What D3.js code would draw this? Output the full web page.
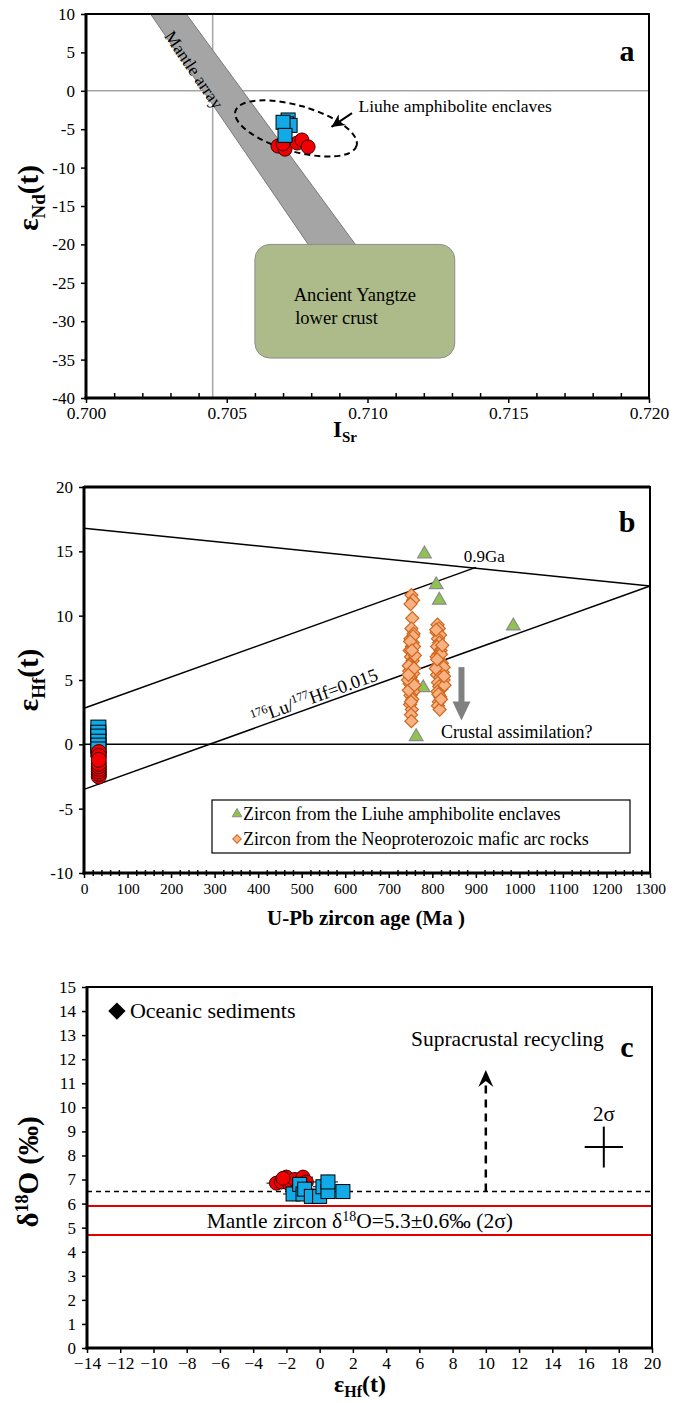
<!DOCTYPE html>
<html><head><meta charset="utf-8">
<script src="https://cdn.jsdelivr.net/npm/d3@7"></script>
<style>
body{margin:0;background:#fff}
svg{display:block}
text{font-family:"Liberation Serif","Times New Roman",serif;fill:#000}
</style>
</head><body>
<svg id="chart" width="680" height="1403"></svg>
<script>
// ---------------- DATA ----------------
// Panel a
const aXDomain = [0.700, 0.720];
const aYDomain = [-40, 10];
const aXTicks = [0.700, 0.705, 0.710, 0.715, 0.720];
const aXMinor = [0.701,0.702,0.703,0.704,0.706,0.707,0.708,0.709,0.711,0.712,0.713,0.714,0.716,0.717,0.718,0.719];
const aYTicks = [10, 5, 0, -5, -10, -15, -20, -25, -30, -35, -40];
const aRefISr = 0.7045;
const aRefENd = 0;
const aCircleISr = [0.70682, 0.70707, 0.70700, 0.70750, 0.70767, 0.70789];
const aCircleENd = [-7.2, -7.6, -6.9, -6.8, -6.4, -7.3];
const aSquareISr = [0.70718, 0.70712, 0.70725, 0.70700, 0.70707];
const aSquareENd = [-3.8, -4.3, -4.5, -4.1, -5.8];
const mantleArrayPts = [[0.70192, 12], [0.70316, 12], [0.71009, -22.6], [0.70838, -22.6]];
const yangtzeBox = [0.7060, -20.0, 0.7131, -34.8];
const enclaveEllipse = [0.70746, -4.9];

// Panel b
const bXDomain = [0, 1300];
const bYDomain = [-10, 20];
const bXTicks = [0,100,200,300,400,500,600,700,800,900,1000,1100,1200,1300];
const bXMinor = [20,40,60,80,120,140,160,180,220,240,260,280,320,340,360,380,420,440,460,480,520,540,560,580,620,640,660,680,720,740,760,780,820,840,860,880,920,940,960,980,1020,1040,1060,1080,1120,1140,1160,1180,1220,1240,1260,1280];
const bYTicks = [20, 15, 10, 5, 0, -5, -10];
const bSquareAge = [33, 33, 33, 33, 33, 33];
const bSquareEHf = [1.3, 0.9, 0.6, 0.2, -0.1, -0.4];
const bCircleAge = [34, 34, 34, 34, 34, 34, 34, 34, 34];
const bCircleEHf = [-0.6, -0.9, -2.5, -2.3, -2.1, -1.9, -1.7, -1.5, -1.2];
const bTriAge = [782, 809, 816, 986, 779, 763];
const bTriEHf = [14.8, 12.4, 11.2, 9.2, 4.4, 0.6];
const bDiaAge = [752,756,750,754,752,757,750,755,753,748,757,751,755,749,753,747,756,750,754,748,752,757,750,754,749,753,751,752,746,758,744,760,746,758,
                 756,749,753,745,759,751,
                 812,815,810,818,813,816,811,819,814,810,817,822,812,815,824,811,818,826,813,816,821,812,818,815,813,817,826,828,808,820,
                 823,809,827,814,820,811];
const bDiaEHf = [11.6,11.2,10.9,9.8,9.0,8.6,8.2,7.9,7.6,7.3,7.0,6.8,6.5,6.2,6.0,5.7,5.5,5.2,4.9,4.7,4.4,4.1,3.8,3.5,3.1,2.7,2.3,1.8,6.1,5.9,5.0,6.9,4.2,7.6,
                 8.4,8.0,7.3,5.4,4.6,3.3,
                 9.3,9.0,8.7,8.5,8.2,7.9,7.6,7.3,7.0,6.8,6.5,6.3,6.1,5.8,5.6,5.4,5.2,5.0,4.8,4.5,4.3,4.1,3.7,3.3,3.0,2.7,6.0,4.6,5.9,7.0,
                 7.7,8.9,5.3,3.9,3.5,6.6];
const bRefLines = [
  [[0, 16.8], [1300, 12.3]],
  [[0, 2.8], [900, 13.75]],
  [[0, -3.5], [1300, 12.3]],
  [[0, 0], [1300, 0]]
];
const bArrow = [867, 6.0, 1.85];

// Panel c
const cXDomain = [-14, 20];
const cYDomain = [0, 15];
const cXTicks = [-14,-12,-10,-8,-6,-4,-2,0,2,4,6,8,10,12,14,16,18,20];
const cYTicks = [0,1,2,3,4,5,6,7,8,9,10,11,12,13,14,15];
const cCircleEHf = [-2.6, -2.3, -2.0, -1.8, -1.5, -1.0, -0.8, -2.2];
const cCircleD18O = [6.85, 6.9, 7.1, 6.8, 7.0, 7.1, 6.9, 7.05];
const cSquareEHf = [-1.6, -1.2, -1.0, -0.9, -0.5, 0.0, 0.2, 0.5, 0.5, 1.4];
const cSquareD18O = [6.4, 6.8, 6.4, 6.6, 6.3, 6.3, 6.7, 6.5, 6.9, 6.5];
const cDashedLevel = 6.5;
const cMantleBand = [5.9, 4.7];
const cRecyclingArrow = [10, 6.5, 11.55];
const cSigmaCross = [17.1, 8.35, 1.15, 0.85];
const cOceanic = [-12.2, 14.0];

// ---------------- DRAWING ----------------
const svg = d3.select('#chart');
const BLUE = '#12aae6', RED = '#f00000';

function styleAxis(g, fs) {
  g.select('.domain').remove();
  g.selectAll('.tick line').attr('stroke', '#000').attr('stroke-width', 1.5);
  g.selectAll('.tick text').style('font-size', fs + 'px').style('font-family', '"Liberation Serif","Times New Roman",serif');
}
function frame(g, L) {
  g.append('rect').attr('x', L.l).attr('y', L.t).attr('width', L.r - L.l).attr('height', L.b - L.t)
    .attr('fill', 'none').attr('stroke', '#000').attr('stroke-width', 2);
  g.append('line').attr('x1', L.l).attr('x2', L.l).attr('y1', L.t - 1).attr('y2', L.b + 1.5).attr('stroke', '#000').attr('stroke-width', 3);
  g.append('line').attr('x1', L.l - 1.5).attr('x2', L.r + 1).attr('y1', L.b).attr('y2', L.b).attr('stroke', '#000').attr('stroke-width', 3);
}
function arrowHead(g, x1, y1, x2, y2, len, w, color, notch) {
  const a = Math.atan2(y2 - y1, x2 - x1);
  const bx = x2 - len * Math.cos(a), by = y2 - len * Math.sin(a);
  const nx = -Math.sin(a), ny = Math.cos(a);
  const nb = x2 - len * (1 - notch) * Math.cos(a), nby = y2 - len * (1 - notch) * Math.sin(a);
  g.append('path').attr('d', `M${x2},${y2}L${bx + nx * w / 2},${by + ny * w / 2}L${nb},${nby}L${bx - nx * w / 2},${by - ny * w / 2}Z`)
    .attr('fill', color).attr('stroke', 'none');
}
function squares(g, xs, ys, sx, sy, s) {
  g.selectAll(null).data(xs.map((x, i) => [x, ys[i]])).join('rect')
    .attr('x', d => sx(d[0]) - s / 2).attr('y', d => sy(d[1]) - s / 2).attr('width', s).attr('height', s)
    .attr('fill', BLUE).attr('stroke', '#000').attr('stroke-width', 1);
}
function circles(g, xs, ys, sx, sy, r) {
  g.selectAll(null).data(xs.map((x, i) => [x, ys[i]])).join('circle')
    .attr('cx', d => sx(d[0])).attr('cy', d => sy(d[1])).attr('r', r)
    .attr('fill', RED).attr('stroke', '#3a0000').attr('stroke-width', 1);
}
function yLabel(g, cx, cy, main, sub, tail, sup) {
  const t = g.append('text').attr('transform', `translate(${cx},${cy}) rotate(-90)`).attr('text-anchor', 'middle')
    .style('font-weight', 'bold').style('font-size', '29px');
  t.append('tspan').text(main);
  if (sup) {
    t.append('tspan').style('font-size', '18px').attr('baseline-shift', 'super').text(sub);
  } else {
    t.append('tspan').attr('dy', 7).style('font-size', '19px').text(sub);
  }
  t.append('tspan').attr('dy', sup ? 0 : -7).text(tail);
}

// ===== Panel a =====
{
  const L = {l: 86, r: 649, t: 14, b: 398};
  const x = d3.scaleLinear().domain(aXDomain).range([L.l, L.r]);
  const y = d3.scaleLinear().domain(aYDomain).range([L.b, L.t]);
  const g = svg.append('g');
  svg.append('clipPath').attr('id', 'clipA').append('rect').attr('x', L.l).attr('y', L.t).attr('width', L.r - L.l).attr('height', L.b - L.t);
  const gc = g.append('g').attr('clip-path', 'url(#clipA)');
  gc.append('line').attr('x1', x(aRefISr)).attr('x2', x(aRefISr)).attr('y1', y(aYDomain[0])).attr('y2', y(aYDomain[1]))
    .attr('stroke', '#a6a6a6').attr('stroke-width', 1.5);
  gc.append('line').attr('x1', x(aXDomain[0])).attr('x2', x(aXDomain[1])).attr('y1', y(aRefENd)).attr('y2', y(aRefENd))
    .attr('stroke', '#a6a6a6').attr('stroke-width', 1.5);
  gc.append('path').attr('d', d3.line().x(d => x(d[0])).y(d => y(d[1]))(mantleArrayPts) + 'Z')
    .attr('fill', '#a5a5a5').attr('stroke', '#7a7a7a').attr('stroke-width', 1);
  gc.append('rect').attr('x', x(yangtzeBox[0])).attr('y', y(yangtzeBox[1]))
    .attr('width', x(yangtzeBox[2]) - x(yangtzeBox[0])).attr('height', y(yangtzeBox[3]) - y(yangtzeBox[1]))
    .attr('rx', 15).attr('fill', '#adbb8a').attr('stroke', '#8c8c8c').attr('stroke-width', 1);
  g.append('text').attr('x', x(0.70955)).attr('y', y(-27.4)).attr('text-anchor', 'middle').style('font-size', '18.5px').text('Ancient Yangtze');
  g.append('text').attr('x', x(0.70890)).attr('y', y(-30.4)).attr('text-anchor', 'middle').style('font-size', '18.5px').text('lower crust');
  // mantle array label
  const ang = Math.atan2(y(mantleArrayPts[3][1]) - y(mantleArrayPts[0][1]), x(mantleArrayPts[3][0]) - x(mantleArrayPts[0][0])) * 180 / Math.PI;
  g.append('text').attr('transform', `translate(${x(0.70366)},${y(2.3)}) rotate(${ang})`).attr('text-anchor', 'middle')
    .style('font-size', '17.5px').text('Mantle array');
  // ellipse
  g.append('ellipse').attr('cx', x(enclaveEllipse[0])).attr('cy', y(enclaveEllipse[1])).attr('rx', 63).attr('ry', 23)
    .attr('transform', `rotate(16,${x(enclaveEllipse[0])},${y(enclaveEllipse[1])})`)
    .attr('fill', 'none').attr('stroke', '#000').attr('stroke-width', 2).attr('stroke-dasharray', '6,4');
  // annotation arrow
  const ax1 = x(0.70945), ay1 = y(-2.9), ax2 = x(0.70872), ay2 = y(-4.7);
  g.append('line').attr('x1', ax1).attr('y1', ay1).attr('x2', ax2).attr('y2', ay2).attr('stroke', '#000').attr('stroke-width', 2);
  arrowHead(g, ax1, ay1, ax2, ay2, 13, 13, '#000', 0.3);
  g.append('text').attr('x', x(0.70968)).attr('y', y(-2.7)).style('font-size', '17.5px').text('Liuhe amphibolite enclaves');
  // points
  circles(g, aCircleISr, aCircleENd, x, y, 7);
  squares(g, aSquareISr, aSquareENd, x, y, 14);
  // axes
  g.append('g').attr('transform', `translate(0,${L.b})`)
    .call(d3.axisBottom(x).tickValues(aXMinor).tickSize(-5).tickFormat(''))
    .call(s => styleAxis(s, 17));
  g.append('g').attr('transform', `translate(0,${L.b})`)
    .call(d3.axisBottom(x).tickValues(aXTicks).tickSize(5).tickPadding(4).tickFormat(d3.format('.3f')))
    .call(s => styleAxis(s, 17.5));
  g.append('g').attr('transform', `translate(${L.l},0)`)
    .call(d3.axisLeft(y).tickValues(aYTicks).tickSize(5).tickPadding(6).tickFormat(d => String(d)))
    .call(s => styleAxis(s, 17));
  frame(g, L);
  g.append('text').attr('x', 627).attr('y', 61).attr('text-anchor', 'middle').style('font-size', '30px').style('font-weight', 'bold').text('a');
  yLabel(g, 38, 198, 'ε', 'Nd', '(t)', false);
  const xl = g.append('text').attr('x', 345).attr('y', 437).attr('text-anchor', 'middle').style('font-weight', 'bold').style('font-size', '23px');
  xl.append('tspan').text('I');
  xl.append('tspan').attr('dy', 5).style('font-size', '15px').text('Sr');
}

// ===== Panel b =====
{
  const L = {l: 84, r: 650, t: 487, b: 873};
  const x = d3.scaleLinear().domain(bXDomain).range([L.l, L.r]);
  const y = d3.scaleLinear().domain(bYDomain).range([L.b, L.t]);
  const g = svg.append('g');
  const line = d3.line().x(d => x(d[0])).y(d => y(d[1]));
  bRefLines.forEach(seg => g.append('path').attr('d', line(seg)).attr('stroke', '#000').attr('stroke-width', 1.5).attr('fill', 'none'));
  // labels on lines
  g.append('text').attr('x', x(872)).attr('y', y(14.2)).style('font-size', '17px').text('0.9Ga');
  const s3 = bRefLines[2];
  const ang = Math.atan2(y(s3[1][1]) - y(s3[0][1]), x(s3[1][0]) - x(s3[0][0])) * 180 / Math.PI;
  const lt = g.append('text').attr('transform', `translate(${x(390)},${y(1.2) - 4}) rotate(${ang})`).style('font-size', '18.5px');
  lt.append('tspan').style('font-size', '12px').attr('baseline-shift', 'super').text('176');
  lt.append('tspan').text('Lu/');
  lt.append('tspan').style('font-size', '12px').attr('baseline-shift', 'super').text('177');
  lt.append('tspan').text('Hf=0.015');
  // gray arrow
  const axp = x(bArrow[0]), ytop = y(bArrow[1]), ytip = y(bArrow[2]);
  g.append('line').attr('x1', axp).attr('x2', axp).attr('y1', ytop).attr('y2', ytip - 16).attr('stroke', '#808080').attr('stroke-width', 6);
  g.append('path').attr('d', `M${axp - 9},${ytip - 19}L${axp + 9},${ytip - 19}L${axp},${ytip}Z`).attr('fill', '#808080');
  g.append('text').attr('x', x(820)).attr('y', y(0.47)).style('font-size', '18px').text('Crustal assimilation?');
  // points
  const tri = d3.symbol(d3.symbolTriangle).size(80);
  g.selectAll(null).data(bTriAge.map((a, i) => [a, bTriEHf[i]])).join('path')
    .attr('d', tri).attr('transform', d => `translate(${x(d[0])},${y(d[1])})`)
    .attr('fill', '#8fc24f').attr('stroke', '#8c8c8c').attr('stroke-width', 1.2);
  const dia = d3.symbol(d3.symbolSquare).size(85);
  g.selectAll(null).data(bDiaAge.map((a, i) => [a, bDiaEHf[i]])).join('path')
    .attr('d', dia).attr('transform', d => `translate(${x(d[0])},${y(d[1])}) rotate(45)`)
    .attr('fill', '#f7b183').attr('stroke', '#d0661c').attr('stroke-width', 1.2);
  squares(g, bSquareAge, bSquareEHf, x, y, 15);
  circles(g, bCircleAge, bCircleEHf, x, y, 7.5);
  // legend
  const lg = g.append('g');
  lg.append('rect').attr('x', 212).attr('y', 800).attr('width', 418).attr('height', 53).attr('fill', '#fff').attr('stroke', '#000').attr('stroke-width', 1.2);
  lg.append('path').attr('d', d3.symbol(d3.symbolTriangle).size(40)).attr('transform', 'translate(237,814)')
    .attr('fill', '#8fc24f').attr('stroke', '#8c8c8c');
  lg.append('text').attr('x', 243).attr('y', 820).style('font-size', '18px').text('Zircon from the Liuhe amphibolite enclaves');
  lg.append('path').attr('d', d3.symbol(d3.symbolSquare).size(36)).attr('transform', 'translate(237,839) rotate(45)')
    .attr('fill', '#f7b183').attr('stroke', '#d0661c');
  lg.append('text').attr('x', 243).attr('y', 845).style('font-size', '18px').text('Zircon from the Neoproterozoic mafic arc rocks');
  // axes
  g.append('g').attr('transform', `translate(0,${L.b})`)
    .call(d3.axisBottom(x).tickValues(bXMinor).tickSizeInner(3).tickSizeOuter(0).tickFormat(''))
    .call(s => styleAxis(s, 15));
  g.append('g').attr('transform', `translate(0,${L.b})`)
    .call(d3.axisBottom(x).tickValues(bXMinor).tickSize(-3).tickFormat(''))
    .call(s => styleAxis(s, 15));
  g.append('g').attr('transform', `translate(0,${L.b})`)
    .call(d3.axisBottom(x).tickValues(bXTicks).tickSize(5).tickPadding(5).tickFormat(d => String(d)))
    .call(s => styleAxis(s, 15.5));
  g.append('g').attr('transform', `translate(${L.l},0)`)
    .call(d3.axisLeft(y).tickValues(bYTicks).tickSize(5).tickPadding(6).tickFormat(d => String(d)))
    .call(s => styleAxis(s, 17));
  frame(g, L);
  g.append('line').attr('x1', L.l).attr('x2', L.r).attr('y1', L.t).attr('y2', L.t).attr('stroke', '#000').attr('stroke-width', 3);
  g.append('text').attr('x', 627).attr('y', 532).attr('text-anchor', 'middle').style('font-size', '30px').style('font-weight', 'bold').text('b');
  yLabel(g, 38, 680, 'ε', 'Hf', '(t)', false);
  g.append('text').attr('x', 366).attr('y', 925).attr('text-anchor', 'middle').style('font-weight', 'bold').style('font-size', '21px')
    .text('U-Pb zircon age (Ma )');
}

// ===== Panel c =====
{
  const L = {l: 87, r: 652, t: 987, b: 1348};
  const x = d3.scaleLinear().domain(cXDomain).range([L.l, L.r]);
  const y = d3.scaleLinear().domain(cYDomain).range([L.b, L.t]);
  const g = svg.append('g');
  // reference lines
  g.append('line').attr('x1', L.l).attr('x2', L.r).attr('y1', y(cDashedLevel)).attr('y2', y(cDashedLevel))
    .attr('stroke', '#000').attr('stroke-width', 1.5).attr('stroke-dasharray', '5,4');
  cMantleBand.forEach(v => g.append('line').attr('x1', L.l).attr('x2', L.r).attr('y1', y(v)).attr('y2', y(v))
    .attr('stroke', '#e00000').attr('stroke-width', 2));
  const mt = g.append('text').attr('x', x(-6.8)).attr('y', y(5.0)).style('font-size', '21.5px');
  mt.append('tspan').text('Mantle zircon δ');
  mt.append('tspan').style('font-size', '14px').attr('baseline-shift', 'super').text('18');
  mt.append('tspan').text('O=5.3±0.6‰ (2σ)');
  // recycling arrow
  const rx = x(cRecyclingArrow[0]);
  g.append('line').attr('x1', rx).attr('x2', rx).attr('y1', y(cRecyclingArrow[1])).attr('y2', y(cRecyclingArrow[2]) + 12)
    .attr('stroke', '#000').attr('stroke-width', 2.5).attr('stroke-dasharray', '8,6');
  arrowHead(g, rx, y(cRecyclingArrow[1]), rx, y(cRecyclingArrow[2]), 17, 15, '#000', 0.35);
  g.append('text').attr('x', x(11.3)).attr('y', y(11.75) - 19).attr('text-anchor', 'middle').style('font-size', '21.5px').text('Supracrustal recycling');
  // 2 sigma cross
  const cx0 = x(cSigmaCross[0]), cy0 = y(cSigmaCross[1]);
  g.append('line').attr('x1', x(cSigmaCross[0] - cSigmaCross[2])).attr('x2', x(cSigmaCross[0] + cSigmaCross[2]))
    .attr('y1', cy0).attr('y2', cy0).attr('stroke', '#000').attr('stroke-width', 2);
  g.append('line').attr('x1', cx0).attr('x2', cx0).attr('y1', y(cSigmaCross[1] + cSigmaCross[3])).attr('y2', y(cSigmaCross[1] - cSigmaCross[3]))
    .attr('stroke', '#000').attr('stroke-width', 2);
  g.append('text').attr('x', cx0).attr('y', y(cSigmaCross[1] + cSigmaCross[3]) - 6).attr('text-anchor', 'middle').style('font-size', '21px').text('2σ');
  // oceanic sediments legend
  g.append('path').attr('d', d3.symbol(d3.symbolSquare).size(150)).attr('transform', `translate(${x(cOceanic[0])},${y(cOceanic[1])}) rotate(45)`)
    .attr('fill', '#000');
  g.append('text').attr('x', x(cOceanic[0]) + 13).attr('y', y(cOceanic[1]) + 7).style('font-size', '22px').text('Oceanic sediments');
  // error crosses and points
  const allPts = cCircleEHf.map((v, i) => [v, cCircleD18O[i]]).concat(cSquareEHf.map((v, i) => [v, cSquareD18O[i]]));
  allPts.forEach(d => {
    g.append('line').attr('x1', x(d[0] - 0.6)).attr('x2', x(d[0] + 0.6)).attr('y1', y(d[1])).attr('y2', y(d[1])).attr('stroke', '#000').attr('stroke-width', 1);
    g.append('line').attr('x1', x(d[0])).attr('x2', x(d[0])).attr('y1', y(d[1] - 0.3)).attr('y2', y(d[1] + 0.3)).attr('stroke', '#000').attr('stroke-width', 1);
  });
  circles(g, cCircleEHf, cCircleD18O, x, y, 7);
  squares(g, cSquareEHf, cSquareD18O, x, y, 14);
  // axes
  g.append('g').attr('transform', `translate(0,${L.b})`)
    .call(d3.axisBottom(x).tickValues(cXTicks).tickSize(5).tickPadding(4).tickFormat(d3.format('d')))
    .call(s => styleAxis(s, 17.5));
  g.append('g').attr('transform', `translate(${L.l},0)`)
    .call(d3.axisLeft(y).tickValues(cYTicks).tickSize(5).tickPadding(6).tickFormat(d => String(d)))
    .call(s => styleAxis(s, 17));
  frame(g, L);
  g.append('text').attr('x', 627).attr('y', 1057).attr('text-anchor', 'middle').style('font-size', '30px').style('font-weight', 'bold').text('c');
  yLabel(g, 38, 1172, 'δ', '18', 'O (‰)', true);
  const xl = g.append('text').attr('x', 360).attr('y', 1392).attr('text-anchor', 'middle').style('font-weight', 'bold').style('font-size', '24px');
  xl.append('tspan').text('ε');
  xl.append('tspan').attr('dy', 5).style('font-size', '16px').text('Hf');
  xl.append('tspan').attr('dy', -5).text('(t)');
}
</script>
</body></html>
